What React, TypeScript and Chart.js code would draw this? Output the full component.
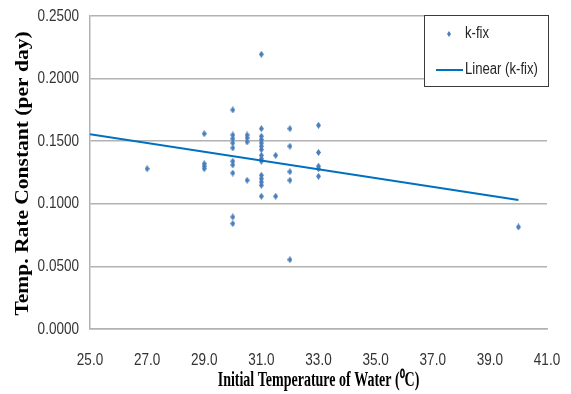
import React, { useEffect, useRef } from "react";
import { Chart, registerables } from "chart.js";

Chart.register(...registerables);

// Initial water temperature (°C) and matching rate constant (per day)
const waterTemps = [
  27.0,
  29.0, 29.0, 29.0, 29.0,
  30.0, 30.0, 30.0, 30.0, 30.0, 30.0, 30.0, 30.0, 30.0, 30.0,
  30.5, 30.5, 30.5, 30.5,
  31.0, 31.0, 31.0, 31.0, 31.0, 31.0, 31.0, 31.0, 31.0, 31.0, 31.0, 31.0, 31.0, 31.0, 31.0,
  31.5, 31.5,
  32.0, 32.0, 32.0, 32.0, 32.0,
  33.0, 33.0, 33.0, 33.0, 33.0,
  40.0,
];
const rateConstants = [
  0.128,
  0.156, 0.132, 0.130, 0.128,
  0.175, 0.155, 0.152, 0.1486, 0.1446, 0.134, 0.131, 0.1246, 0.0895, 0.0842,
  0.155, 0.1526, 0.1494, 0.1188,
  0.2194, 0.160, 0.154, 0.1513, 0.1486, 0.146, 0.1433, 0.1387, 0.136, 0.134, 0.1228, 0.1201, 0.1174, 0.1148, 0.106,
  0.1387, 0.106,
  0.160, 0.146, 0.1256, 0.1188, 0.0554,
  0.1627, 0.141, 0.130, 0.128, 0.122,
  0.0815,
];

// Linear trend line (k-fix) end points
const trendTemps = [25.0, 40.0];
const trendRates = [0.1555, 0.103];

const seriesLabel = "k-fix";
const trendLabel = "Linear (k-fix)";
const xTitle = "Initial Temperature of Water (\u2070C)";
const yTitle = "Temp. Rate Constant (per day)";

const xMin = 25, xMax = 41, xStep = 2;
const yMin = 0, yMax = 0.25, yStep = 0.05;

const POINT_COLOR = "#4a7ebb";
const LINE_COLOR = "#0070c0";
const GRID_COLOR = "#b2b2b2";
const SANS = "'Liberation Sans', Arial, sans-serif";
const SERIF = "'Liberation Serif', 'Times New Roman', serif";
const NARROW_SCALE = 0.82;

function diamond(w: number, h: number, color: string) {
  const c = document.createElement("canvas");
  c.width = w;
  c.height = h;
  const g = c.getContext("2d")!;
  g.fillStyle = color;
  g.beginPath();
  g.moveTo(w / 2, 0);
  g.lineTo(w, h / 2);
  g.lineTo(w / 2, h);
  g.lineTo(0, h / 2);
  g.closePath();
  g.fill();
  return c;
}

function narrowText(
  ctx: CanvasRenderingContext2D,
  text: string,
  x: number,
  y: number,
  align: CanvasTextAlign,
  font: string,
  color: string
) {
  ctx.save();
  ctx.font = font;
  ctx.fillStyle = color;
  ctx.textAlign = align;
  ctx.textBaseline = "middle";
  ctx.translate(x, y);
  ctx.scale(NARROW_SCALE, 1);
  ctx.fillText(text, 0, 0);
  ctx.restore();
}

export default function App() {
  const ref = useRef<HTMLCanvasElement | null>(null);

  useEffect(() => {
    if (!ref.current) return;
    const marker = diamond(5, 7, POINT_COLOR);
    const legendMarker = diamond(4, 6, POINT_COLOR);

    const overlay = {
      id: "overlay",
      afterDraw(chart: any) {
        const ctx = chart.ctx as CanvasRenderingContext2D;
        const area = chart.chartArea;
        const xs = chart.scales.x;
        const ys = chart.scales.y;
        const tickFont = `16.5px ${SANS}`;
        // Tick labels (Calibri-like narrow text) from the library's scales
        ys.ticks.forEach((t: any) => {
          const label = t.label ?? Number(t.value).toFixed(4);
          narrowText(ctx, String(label), area.left - 11, ys.getPixelForValue(t.value), "right", tickFont, "#333");
        });
        xs.ticks.forEach((t: any) => {
          const label = t.label ?? Number(t.value).toFixed(1);
          narrowText(ctx, String(label), xs.getPixelForValue(t.value), area.bottom + 31, "center", tickFont, "#333");
        });
        // X axis title (condensed bold serif)
        ctx.save();
        ctx.fillStyle = "#000";
        ctx.font = `bold 20px ${SERIF}`;
        ctx.textAlign = "center";
        ctx.textBaseline = "middle";
        ctx.translate((area.left + area.right) / 2, 381);
        ctx.scale(0.7, 1);
        ctx.fillText(xTitle, 0, 0);
        ctx.restore();
        // Y axis title
        ctx.save();
        ctx.fillStyle = "#000";
        ctx.font = `bold 21.5px ${SERIF}`;
        ctx.textAlign = "center";
        ctx.textBaseline = "middle";
        ctx.translate(23, (area.top + area.bottom) / 2 + 1);
        ctx.scale(0.88, 1);
        ctx.rotate(-Math.PI / 2);
        ctx.fillText(yTitle, 0, 0);
        ctx.restore();
        // Legend box
        ctx.save();
        const lx = 424.5, ly = 15.5, lw = 124, lh = 71;
        ctx.fillStyle = "#fff";
        ctx.fillRect(lx, ly, lw, lh);
        ctx.strokeStyle = "#3a3a3a";
        ctx.lineWidth = 1;
        ctx.strokeRect(lx, ly, lw, lh);
        ctx.drawImage(legendMarker, 449 - 2, 34 - 3);
        ctx.strokeStyle = LINE_COLOR;
        ctx.lineWidth = 2;
        ctx.beginPath();
        ctx.moveTo(436, 70);
        ctx.lineTo(463, 70);
        ctx.stroke();
        ctx.restore();
        const legFont = `16px ${SANS}`;
        narrowText(ctx, chart.data.datasets[0].label, 465, 34, "left", legFont, "#262626");
        narrowText(ctx, chart.data.datasets[1].label, 465, 70, "left", legFont, "#262626");
      },
    };

    const chart = new Chart(ref.current, {
      type: "scatter",
      data: {
        datasets: [
          {
            label: seriesLabel,
            data: waterTemps.map((t, i) => ({ x: t, y: rateConstants[i] })),
            pointStyle: marker as any,
            pointRadius: 4,
            backgroundColor: POINT_COLOR,
            borderColor: POINT_COLOR,
            order: 2,
          },
          {
            label: trendLabel,
            type: "line" as any,
            data: trendTemps.map((t, i) => ({ x: t, y: trendRates[i] })),
            showLine: true,
            borderColor: LINE_COLOR,
            borderWidth: 2,
            pointRadius: 0,
            fill: false,
            order: 1,
          },
        ],
      },
      options: {
        responsive: false,
        animation: false,
        events: [],
        layout: { padding: { left: 0, right: 24, top: 16, bottom: 0 } },
        plugins: {
          legend: { display: false },
          tooltip: { enabled: false },
          title: { display: false },
        },
        scales: {
          x: {
            type: "linear",
            min: xMin,
            max: xMax,
            afterFit: (s: any) => { s.height = 65; },
            ticks: {
              display: false,
              stepSize: xStep,
              callback: (v: any) => Number(v).toFixed(1),
            },
            grid: { display: false, drawTicks: false },
            border: { display: true, color: GRID_COLOR, width: 1.5 },
          },
          y: {
            type: "linear",
            min: yMin,
            max: yMax,
            afterFit: (s: any) => { s.width = 90; },
            ticks: {
              display: false,
              stepSize: yStep,
              callback: (v: any) => Number(v).toFixed(4),
            },
            grid: { color: GRID_COLOR, lineWidth: 1.5, drawTicks: false },
            border: { display: true, color: GRID_COLOR, width: 1.5 },
          },
        },
      },
      plugins: [overlay],
    });
    return () => chart.destroy();
  }, []);

  return (
    <div style={{ position: "absolute", left: 0, top: 0, width: 571, height: 394, background: "#fff" }}>
      <canvas ref={ref} width={571} height={394} style={{ width: 571, height: 394, display: "block" }} />
    </div>
  );
}
